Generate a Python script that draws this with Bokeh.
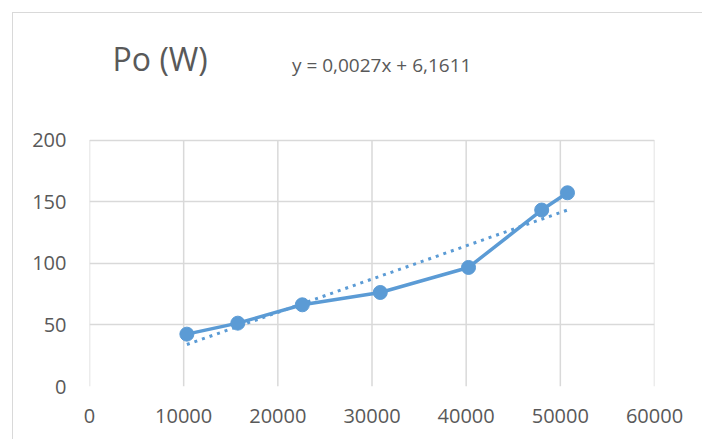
from bokeh.plotting import figure
from bokeh.models import Range1d, Label, FixedTicker
from bokeh.embed import file_html
from bokeh.resources import INLINE

# Data
x_vals = [10340, 15750, 22600, 30880, 40250, 48020, 50760]
po_w = [42.5, 51.4, 66.3, 76.3, 96.6, 143.2, 157.2]
trend_slope = 0.0027
trend_intercept = 6.1611
x_ticks = [0, 10000, 20000, 30000, 40000, 50000, 60000]
y_ticks = [0, 50, 100, 150, 200]
title_text = "Po (W)"
equation_text = "y = 0,0027x + 6,1611"

BLUE = "#5b9bd5"
GRID = "#d9d9d9"
TEXT = "#595959"
FONT = "Open Sans"

# frame extends above the value axis so the title row sits inside it
p = figure(width=690, height=427, output_backend="svg", toolbar_location=None,
           x_range=Range1d(0, 60000), y_range=Range1d(0, 297),
           min_border_left=76, min_border_right=49, min_border_top=7, min_border_bottom=54)
p.margin = (12, 0, 0, 12)
p.styles = {"border-left": "1px solid #d9d9d9", "border-top": "1px solid #d9d9d9"}
p.outline_line_color = None
p.background_fill_color = "white"
p.border_fill_color = "white"

for ax in (p.xaxis, p.yaxis):
    ax.axis_line_color = None
    ax.major_tick_line_color = None
    ax.minor_tick_line_color = None
    ax.major_label_text_font = FONT
    ax.major_label_text_font_size = "20px"
    ax.major_label_text_color = TEXT
p.xaxis.ticker = FixedTicker(ticks=x_ticks)
p.yaxis.ticker = FixedTicker(ticks=y_ticks)
p.xaxis.major_label_standoff = 16
p.yaxis.major_label_standoff = 17

p.xgrid.visible = False
p.ygrid.ticker = FixedTicker(ticks=y_ticks)
p.ygrid.grid_line_color = GRID
p.ygrid.grid_line_width = 1.5

# vertical gridlines only up to the top of the value axis
p.segment(x0=x_ticks, y0=[min(y_ticks)] * len(x_ticks),
          x1=x_ticks, y1=[max(y_ticks)] * len(x_ticks),
          line_color=GRID, line_width=1.5)

# trendline from fitted equation over data range
tx = [min(x_vals), max(x_vals)]
ty = [trend_slope * v + trend_intercept for v in tx]
p.line(tx, ty, line_color=BLUE, line_width=3, line_dash="3 5")

p.line(x_vals, po_w, line_color=BLUE, line_width=3.5)
p.scatter(x_vals, po_w, size=14, fill_color=BLUE, line_color=BLUE)

p.add_layout(Label(x=2450, y=266.5, text=title_text, text_font=FONT,
                   text_font_size="32px", text_color=TEXT, text_baseline="middle"))
p.add_layout(Label(x=21500, y=261, text=equation_text, text_font=FONT,
                   text_font_size="19px", text_color=TEXT, text_baseline="middle"))

open("out.html", "w").write(file_html(p, INLINE))
